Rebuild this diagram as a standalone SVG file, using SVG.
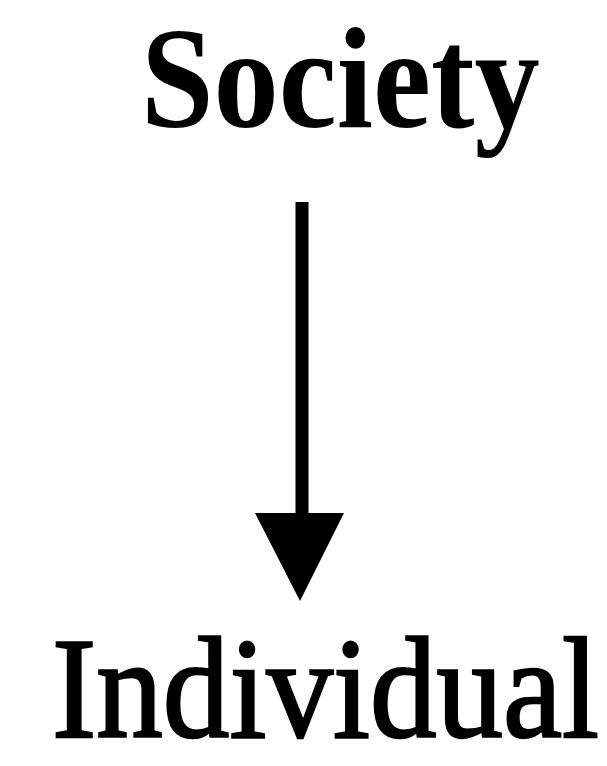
<svg xmlns="http://www.w3.org/2000/svg" width="607" height="766" viewBox="0 0 607 766">
<style>
.lbl{font-family:"Liberation Serif","Times New Roman",serif;font-size:145px;fill:#000}
.b{font-weight:bold}
.r{stroke:#000;stroke-width:2.5}
</style>
<rect width="607" height="766" fill="#fff"/>
<g id="society"><text class="lbl b" transform="translate(141,127) scale(0.9,1)" x="0" y="0">Society</text></g>
<g id="individual"><text class="lbl r" transform="translate(52,737) scale(0.918,1)" x="0" y="0">Individual</text></g>
<g id="connectors">
<line x1="302" y1="202" x2="302" y2="520" stroke="#000" stroke-width="13"/>
<polygon points="255,513 344,513 300,601" fill="#000"/>
</g>
</svg>
